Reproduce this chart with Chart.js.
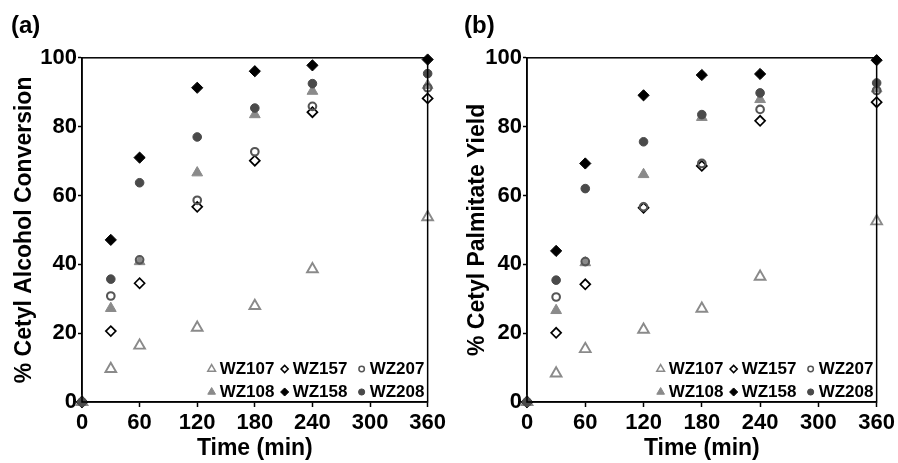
<!DOCTYPE html>
<html>
<head>
<meta charset="utf-8">
<script src="https://cdn.jsdelivr.net/npm/chart.js@4.4.1/dist/chart.umd.min.js"></script>
<style>
    html, body { margin: 0; padding: 0; background: #fff; }
    .wrap { position: relative; width: 898px; height: 463px; }
    canvas { position: absolute; top: 0; }
</style>
</head>
<body>
<div class="wrap">
    <canvas id="chartA" width="449" height="463" style="left:0"></canvas>
    <canvas id="chartB" width="449" height="463" style="left:449px"></canvas>
</div>
<script>
const times = [0, 30, 60, 120, 180, 240, 360];
const xTicks = [0, 60, 120, 180, 240, 300, 360];
const yTicks = [0, 20, 40, 60, 80, 100];
const seriesNames = ['WZ107', 'WZ108', 'WZ157', 'WZ158', 'WZ207', 'WZ208'];

// (a) % cetyl alcohol conversion
const convWZ107 = [0, 9.6, 16.4, 21.6, 27.9, 38.6, 53.7];
const convWZ108 = [0, 27.2, 40.8, 66.6, 83.5, 90.3, 92.0];
const convWZ157 = [0, 20.6, 34.5, 56.7, 70.1, 84.2, 88.2];
const convWZ158 = [0, 47.1, 71.0, 91.3, 96.1, 97.8, 99.5];
const convWZ207 = [0, 30.8, 41.3, 58.6, 72.7, 85.9, 91.3];
const convWZ208 = [0, 35.7, 63.7, 77.0, 85.4, 92.5, 95.4];

// (b) % cetyl palmitate yield
const yieldWZ107 = [0, 8.3, 15.4, 21.0, 27.1, 36.4, 52.5];
const yieldWZ108 = [0, 26.6, 40.5, 66.1, 82.7, 87.9, 91.0];
const yieldWZ157 = [0, 20.1, 34.2, 56.4, 68.6, 81.7, 87.1];
const yieldWZ158 = [0, 43.9, 69.3, 89.1, 95.0, 95.3, 99.3];
const yieldWZ207 = [0, 30.5, 40.8, 56.7, 69.3, 85.0, 90.5];
const yieldWZ208 = [0, 35.4, 62.0, 75.6, 83.5, 89.8, 92.7];

const FONT = "'Liberation Sans', Arial, sans-serif";

// marker look per series
const styles = {
    WZ107: { shape: 'triangle', fill: '#ffffff', stroke: '#8a8a8a', r: 6.2, bw: 1.9 },
    WZ108: { shape: 'triangle', fill: '#8a8a8a', stroke: '#8a8a8a', r: 6.2, bw: 1 },
    WZ157: { shape: 'rectRot', fill: '#ffffff', stroke: '#000000', r: 5, bw: 1.7 },
    WZ158: { shape: 'rectRot', fill: '#000000', stroke: '#000000', r: 5.6, bw: 1 },
    WZ207: { shape: 'circle', fill: 'rgba(0,0,0,0)', stroke: '#555555', r: 3.8, bw: 2.1 },
    WZ208: { shape: 'circle', fill: '#4a4a4a', stroke: '#4a4a4a', r: 4.3, bw: 1 }
};

function toPoints(values) {
    return times.map((t, i) => ({ x: t, y: values[i] }));
}

function makeDatasets(list) {
    return seriesNames.map((name, i) => {
        const s = styles[name];
        return {
            label: name,
            data: toPoints(list[i]),
            order: seriesNames.length - i, // later series drawn on top
            showLine: false,
            clip: false,
            pointStyle: s.shape,
            pointRadius: s.r,
            pointHoverRadius: s.r,
            pointBackgroundColor: s.fill,
            pointBorderColor: s.stroke,
            pointBorderWidth: s.bw
        };
    });
}

// draw a small marker for the legend
function drawMarker(ctx, shape, x, y, r, fill, stroke, bw) {
    ctx.save();
    ctx.beginPath();
    if (shape === 'triangle') {
        ctx.moveTo(x, y - r);
        ctx.lineTo(x + r * 0.866, y + r * 0.5);
        ctx.lineTo(x - r * 0.866, y + r * 0.5);
        ctx.closePath();
    } else if (shape === 'rectRot') {
        ctx.moveTo(x - r, y);
        ctx.lineTo(x, y - r);
        ctx.lineTo(x + r, y);
        ctx.lineTo(x, y + r);
        ctx.closePath();
    } else {
        ctx.arc(x, y, r, 0, Math.PI * 2);
    }
    ctx.fillStyle = fill;
    ctx.fill();
    ctx.lineWidth = bw;
    ctx.strokeStyle = stroke;
    ctx.stroke();
    ctx.restore();
}

const boxAndLegend = {
    id: 'boxAndLegend',
    afterDraw(chart) {
        const ctx = chart.ctx;
        const a = chart.chartArea;
        ctx.save();
        ctx.strokeStyle = '#000';
        ctx.lineWidth = 1.5;
        ctx.strokeRect(a.left, a.top, a.right - a.left, a.bottom - a.top);

        const order = [['WZ107', 'WZ157', 'WZ207'], ['WZ108', 'WZ158', 'WZ208']];
        const colX = [a.right - 216, a.right - 143, a.right - 66];
        const rowY = [a.bottom - 34, a.bottom - 11];
        ctx.font = 'bold 17px ' + FONT;
        ctx.fillStyle = '#000';
        ctx.textBaseline = 'middle';
        order.forEach((row, ri) => {
            row.forEach((name, ci) => {
                const s = styles[name];
                const fill = s.fill === 'rgba(0,0,0,0)' ? '#fff' : s.fill;
                drawMarker(ctx, s.shape, colX[ci], rowY[ri] + 1, s.r * 0.72, fill, s.stroke, Math.min(s.bw, 1.5));
                ctx.fillText(name, colX[ci] + 8, rowY[ri] + 1);
            });
        });
        ctx.restore();
    }
};

function makeChart(id, panel, yTitle, datasets, cfg) {
    return new Chart(document.getElementById(id), {
        type: 'scatter',
        data: { datasets: datasets },
        plugins: [boxAndLegend],
        options: {
            responsive: false,
            animation: false,
            events: [],
            layout: { padding: { left: cfg.padLeft, right: cfg.padRight, top: 0, bottom: 1 } },
            plugins: {
                legend: { display: false },
                tooltip: { enabled: false },
                title: {
                    display: true,
                    text: panel,
                    align: 'start',
                    color: '#000',
                    font: { family: FONT, size: 24, weight: 'bold' },
                    padding: { top: 12, bottom: 17 }
                }
            },
            scales: {
                x: {
                    type: 'linear',
                    min: 0,
                    max: 360,
                    afterBuildTicks: scale => { scale.ticks = xTicks.map(v => ({ value: v })); },
                    afterFit: scale => { scale.height = 60; },
                    border: { display: true, color: '#000', width: 1.5 },
                    grid: { drawOnChartArea: false, drawTicks: true, tickLength: 5, tickColor: '#000', tickWidth: 1.5 },
                    ticks: { color: '#000', padding: 3, maxRotation: 0, font: { family: FONT, size: 22, weight: 'bold' } },
                    title: { display: true, text: 'Time (min)', color: '#000', padding: { top: 3, bottom: 0 },
                             font: { family: FONT, size: 23, weight: 'bold' } }
                },
                y: {
                    min: 0,
                    max: 100,
                    afterBuildTicks: scale => { scale.ticks = yTicks.map(v => ({ value: v })); },
                    afterFit: scale => { scale.width = cfg.yWidth; },
                    border: { display: true, color: '#000', width: 1.5 },
                    grid: { drawOnChartArea: false, drawTicks: true, tickLength: 4, tickColor: '#000', tickWidth: 1.5 },
                    ticks: { color: '#000', padding: 1, font: { family: FONT, size: 22, weight: 'bold' } },
                    title: { display: true, text: yTitle, color: '#000', padding: { top: 0, bottom: 0 },
                             font: { family: FONT, size: 23, weight: 'bold' } }
                }
            }
        }
    });
}

makeChart('chartA', '(a)', '% Cetyl Alcohol Conversion',
    makeDatasets([convWZ107, convWZ108, convWZ157, convWZ158, convWZ207, convWZ208]),
    { padLeft: 11, padRight: 16, yWidth: 71 });

makeChart('chartB', '(b)', '% Cetyl Palmitate Yield',
    makeDatasets([yieldWZ107, yieldWZ108, yieldWZ157, yieldWZ158, yieldWZ207, yieldWZ208]),
    { padLeft: 15, padRight: 18, yWidth: 63 });
</script>
</body>
</html>
